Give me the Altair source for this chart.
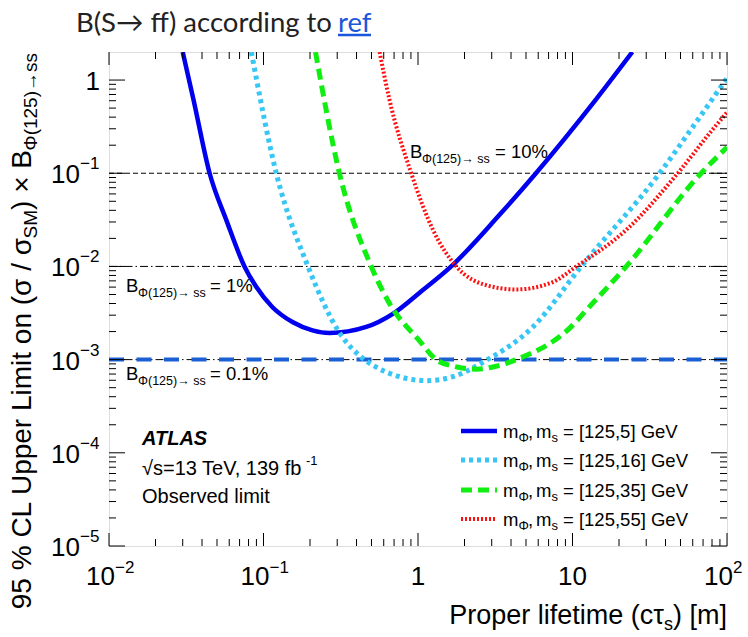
import altair as alt
import pandas as pd

# ---------------- data ----------------
blue_x = [0.030, 0.0352, 0.0448, 0.0574, 0.0753, 0.0897, 0.114, 0.154, 0.2075, 0.267, 0.462, 0.687, 1.02, 1.64, 3.37, 5.8, 14.2, 24.4]
blue_y = [2.0, 0.62, 0.1, 0.0316, 0.01, 6.04e-3, 3.67e-3, 2.53e-3, 2.06e-3, 1.93e-3, 2.24e-3, 3.1e-3, 5.2e-3, 0.01, 0.0358, 0.1, 0.62, 2.0]

lblue_x = [0.0834, 0.121, 0.194, 0.31, 0.45, 0.537, 0.75, 1.13, 1.7, 2.76, 5.54, 11.4, 36.6, 58.6, 100]
lblue_y = [2.0, 0.1, 0.01, 1.95e-3, 1.0e-3, 8.3e-4, 6.6e-4, 5.95e-4, 6.6e-4, 9.8e-4, 2.24e-3, 0.01, 0.1, 0.296, 1.05]

green_x = [0.217, 0.31, 0.498, 0.654, 1.02, 1.31, 1.7, 2.4, 3.2, 4.32, 10.0, 12.3, 22.3, 68, 100]
green_y = [2.0, 0.1, 0.01, 4.0e-3, 1.6e-3, 1.0e-3, 8.5e-4, 7.9e-4, 8.5e-4, 1.0e-3, 2.33e-3, 3.4e-3, 0.01, 0.1, 0.19]

red_x = [0.564, 0.653, 0.904, 1.25, 1.77, 2.76, 4.32, 7.46, 10.6, 22.3, 48, 80.9, 100]
red_y = [2.0, 0.62, 0.1, 0.0247, 0.01, 6.3e-3, 5.66e-3, 6.8e-3, 0.01, 0.0247, 0.1, 0.296, 0.45]

series_masses = ["[125,5] GeV", "[125,16] GeV", "[125,35] GeV", "[125,55] GeV"]

ref_values = [0.1, 0.01, 0.001]
ref_pcts = ["= 10%", "= 1%", "= 0.1%"]

x_tick_vals = [0.01, 0.1, 1, 10, 100]
x_tick_base = ["10", "10", "1", "10", "10"]
x_tick_exp = ["\u22122", "\u22121", "", "", "2"]

y_tick_vals = [1e-5, 1e-4, 1e-3, 1e-2, 1e-1, 1]
y_tick_base = ["10", "10", "10", "10", "10", "1"]
y_tick_exp = ["\u22125", "\u22124", "\u22123", "\u22122", "\u22121", ""]

title_main = "B(S\u2192 ff) according to"
title_link = "ref"
ytitle_parts = ["95 % CL Upper Limit on (\u03c3 / \u03c3", "SM", ") \u00d7 B", "\u03a6(125)\u2192ss"]
xtitle_parts = ["Proper lifetime (c\u03c4", "s", ") [m]"]
sub_phi = "\u03a6(125)\u2192 ss"

# ---------------- layout ----------------
W, H = 618, 494
FONT = "Liberation Sans"
XS = alt.Scale(type="log", domain=[0.01, 100])
YS = alt.Scale(type="log", domain=[1e-5, 2])


def txt(text, x, y, size, align="left", color="black", font=FONT, weight="normal",
        style="normal", angle=0):
    return alt.Chart(pd.DataFrame({"t": [text]})).mark_text(
        align=align, baseline="alphabetic", fontSize=size, font=font,
        fontWeight=weight, fontStyle=style, color=color, angle=angle
    ).encode(x=alt.value(x), y=alt.value(y), text="t:N")


def curve(xv, yv, color, width, dash=None):
    kw = dict(color=color, strokeWidth=width, interpolate="monotone", clip=True, strokeCap="butt")
    if dash is not None:
        kw["strokeDash"] = dash
    return alt.Chart(pd.DataFrame({"x": xv, "y": yv})).mark_line(**kw).encode(
        x=alt.X("x:Q", scale=XS, axis=None),
        y=alt.Y("y:Q", scale=YS, axis=None),
        order="x:Q",
    )


layers = []

# horizontal reference lines
ref_df = pd.DataFrame({"v": ref_values})
layers.append(alt.Chart(ref_df.iloc[[0]]).mark_rule(color="black", strokeWidth=1, strokeDash=[5, 3]).encode(
    y=alt.Y("v:Q", scale=YS, axis=None), x=alt.value(0), x2=alt.value(W)))
layers.append(alt.Chart(ref_df.iloc[[1, 2]]).mark_rule(color="black", strokeWidth=1, strokeDash=[8, 3, 1.5, 3]).encode(
    y=alt.Y("v:Q", scale=YS, axis=None), x=alt.value(0), x2=alt.value(W)))
layers.append(alt.Chart(ref_df.iloc[[2]]).mark_rule(color="#1a5fd4", strokeWidth=4, strokeDash=[15, 12.5]).encode(
    y=alt.Y("v:Q", scale=YS, axis=None), x=alt.value(0), x2=alt.value(W)))

# curves
styles = [
    ("#0000ee", 4.5, None),
    ("#38c6f4", 5, [4, 4]),
    ("#11ee11", 5, [11, 6]),
    ("#ff1010", 4, [2, 2]),
]
for (xv, yv), (c, w, d) in zip([(blue_x, blue_y), (lblue_x, lblue_y), (green_x, green_y), (red_x, red_y)], styles):
    layers.append(curve(xv, yv, c, w, d))

# ticks (inside the frame, all four sides)
x_minor = [m * 10.0 ** k for k in range(-2, 2) for m in range(2, 10)]
y_minor = [m * 10.0 ** k for k in range(-5, 1) for m in range(2, 10) if m * 10.0 ** k < 2]
xmaj_df = pd.DataFrame({"v": x_tick_vals})
xmin_df = pd.DataFrame({"v": x_minor})
ymaj_df = pd.DataFrame({"v": y_tick_vals})
ymin_df = pd.DataFrame({"v": y_minor})
for df, L in [(xmaj_df, 13), (xmin_df, 7)]:
    base = alt.Chart(df).mark_rule(color="black", strokeWidth=1)
    layers.append(base.encode(x=alt.X("v:Q", scale=XS, axis=None), y=alt.value(H), y2=alt.value(H - L)))
    layers.append(base.encode(x=alt.X("v:Q", scale=XS, axis=None), y=alt.value(0), y2=alt.value(L)))
for df, L in [(ymaj_df, 16), (ymin_df, 7)]:
    base = alt.Chart(df).mark_rule(color="black", strokeWidth=1)
    layers.append(base.encode(y=alt.Y("v:Q", scale=YS, axis=None), x=alt.value(0), x2=alt.value(L)))
    layers.append(base.encode(y=alt.Y("v:Q", scale=YS, axis=None), x=alt.value(W), x2=alt.value(W - L)))

# tick labels
xl = pd.DataFrame({"v": x_tick_vals, "b": x_tick_base, "e": x_tick_exp})
xl_exp = xl[xl["e"] != ""]
xl_plain = xl[xl["e"] == ""]
layers.append(alt.Chart(xl_exp).mark_text(align="right", baseline="alphabetic", fontSize=26, font=FONT, dx=6).encode(
    x=alt.X("v:Q", scale=XS, axis=None), y=alt.value(H + 39), text="b:N"))
layers.append(alt.Chart(xl_exp).mark_text(align="left", baseline="alphabetic", fontSize=17, font=FONT, dx=6).encode(
    x=alt.X("v:Q", scale=XS, axis=None), y=alt.value(H + 27), text="e:N"))
layers.append(alt.Chart(xl_plain).mark_text(align="center", baseline="alphabetic", fontSize=26, font=FONT).encode(
    x=alt.X("v:Q", scale=XS, axis=None), y=alt.value(H + 39), text="b:N"))

yl = pd.DataFrame({"v": y_tick_vals, "b": y_tick_base, "e": y_tick_exp})
yl_exp = yl[yl["e"] != ""]
yl_plain = yl[yl["e"] == ""]
layers.append(alt.Chart(yl_exp).mark_text(align="right", baseline="alphabetic", fontSize=26, font=FONT, dy=10).encode(
    y=alt.Y("v:Q", scale=YS, axis=None), x=alt.value(-29), text="b:N"))
layers.append(alt.Chart(yl_exp).mark_text(align="left", baseline="alphabetic", fontSize=17, font=FONT, dy=-4).encode(
    y=alt.Y("v:Q", scale=YS, axis=None), x=alt.value(-29), text="e:N"))
layers.append(alt.Chart(yl_plain).mark_text(align="right", baseline="alphabetic", fontSize=26, font=FONT, dy=10).encode(
    y=alt.Y("v:Q", scale=YS, axis=None), x=alt.value(-9), text="b:N"))

# axis titles
layers.append(txt(xtitle_parts[2], W, 572, 27, align="right"))
layers.append(txt(xtitle_parts[1], W - 54, 578, 18, align="right"))
layers.append(txt(xtitle_parts[0], W - 63, 572, 27, align="right"))

# y title (rotated, reads bottom to top); segments placed from the top end downwards
YB = -78
layers.append(txt(ytitle_parts[3], YB + 6, 1, 19, align="right", angle=270))
layers.append(txt(ytitle_parts[2], YB, 98, 28, align="right", angle=270))
layers.append(txt(ytitle_parts[1], YB + 6, 158, 19, align="right", angle=270))
layers.append(txt(ytitle_parts[0], YB, 186, 28, align="right", angle=270))

# reference line labels
for (bx, by, px), pct in zip([(301, 106, 386), (17, 240, 101), (17, 328, 101)], ref_pcts):
    layers.append(txt("B", bx, by, 18.5))
    layers.append(txt(sub_phi, bx + 12, by + 5, 12.5))
    layers.append(txt(pct, px, by, 18.5))

# ATLAS block
layers.append(txt("ATLAS", 33, 393, 20, weight="bold", style="italic"))
layers.append(txt("\u221as=13 TeV, 139 fb", 33, 423, 20))
layers.append(txt("-1", 197, 413, 13))
layers.append(txt("Observed limit", 33, 451, 20))

# legend
leg_rows = [379, 408, 438, 467]
for row, (c, w, d), mass in zip(leg_rows, styles, series_masses):
    kw = dict(color=c, strokeWidth=w, strokeCap="butt")
    if d is not None:
        kw["strokeDash"] = d
    layers.append(alt.Chart(pd.DataFrame({"m": [mass]})).mark_rule(**kw).encode(
        x=alt.value(352), x2=alt.value(388), y=alt.value(row)))
    layers.append(txt("m", 394, row + 7, 18.5))
    layers.append(txt("\u03a6", 409.5, row + 11, 13))
    layers.append(txt(",", 419, row + 7, 18.5))
    layers.append(txt("m", 427, row + 7, 18.5))
    layers.append(txt("s", 442.5, row + 11, 13))
    layers.append(txt(mass, 454, row + 7, 18.5, align="left").encode(text=alt.value("= " + mass)))

# title
layers.append(txt(title_main, -33, -20, 27.5, font="Lato", color="#222222"))
layers.append(txt(title_link, 229, -20, 27.5, font="Lato", color="#1a56db"))
layers.append(alt.Chart(pd.DataFrame({"t": [title_link]})).mark_rule(color="#1a56db", strokeWidth=2.5).encode(
    x=alt.value(229), x2=alt.value(262), y=alt.value(-17)))

chart = alt.layer(*layers).properties(
    width=W, height=H,
    padding={"left": 109, "top": 52, "right": 21, "bottom": 91},
    autosize=alt.AutoSizeParams(type="none"),
).configure_view(stroke="black", strokeWidth=1.5).configure(background="white")

chart.save("out.html", embed_options={"renderer": "svg", "actions": False})
